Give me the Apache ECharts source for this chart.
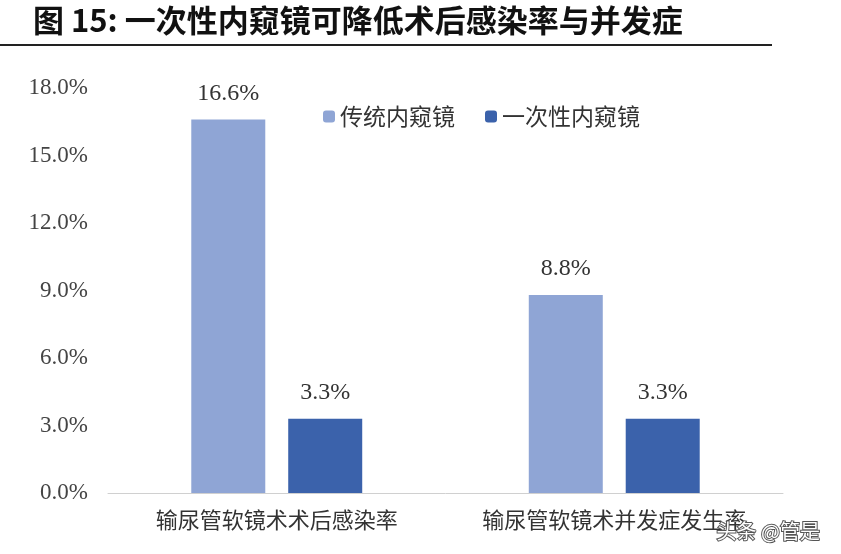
<html>
<head>
    <meta charset="utf-8">
    <title>chart</title>
    <script src="https://cdn.jsdelivr.net/npm/echarts@6/dist/echarts.min.js"></script>
</head>
<body style="margin:0">
    <div id="chart" style="width:841px;height:554px;"></div>
    <script>
        var categories = ['输尿管软镜术术后感染率', '输尿管软镜术并发症发生率'];
        var traditional = [16.6, 8.8];
        var disposable = [3.3, 3.3];
        var yTicks = [0, 3, 6, 9, 12, 15, 18];

        var cjk = '"Noto Sans CJK SC", sans-serif';
        var serif = '"Liberation Serif", "Times New Roman", serif';

        var chart = echarts.init(document.getElementById('chart'));
        var option = {
            animation: false,
            backgroundColor: '#fff',
            title: {
                text: '图 15: 一次性内窥镜可降低术后感染率与并发症',
                left: 28, top: 0,
                textStyle: { fontFamily: cjk, fontSize: 31, fontWeight: 'bold', color: '#111' }
            },
            graphic: [
                { type: 'line', shape: { x1: 0, y1: 45, x2: 772, y2: 45 }, style: { stroke: '#222', lineWidth: 2 } },
                { type: 'text', right: 20, bottom: 12, z: 100, style: { text: '头条 @管是', fill: '#fff', stroke: '#555', lineWidth: 2, font: '20px ' + cjk } }
            ],
            legend: {
                left: 318, top: 100, itemWidth: 12, itemHeight: 12, itemGap: 30,
                textStyle: { fontFamily: cjk, fontSize: 23, color: '#333' }
            },
            grid: { left: 108, right: 58, top: 88, bottom: 61 },
            xAxis: {
                type: 'category', data: categories,
                axisTick: { show: false },
                axisLine: { lineStyle: { color: '#d0d0d0' } },
                axisLabel: { interval: 0, hideOverlap: false, fontFamily: cjk, fontSize: 22, color: '#333', margin: 16 }
            },
            yAxis: {
                type: 'value', min: yTicks[0], max: yTicks[yTicks.length - 1], interval: 3,
                splitLine: { show: false },
                axisLabel: { fontFamily: serif, fontSize: 23, color: '#444', margin: 20,
                    formatter: function (v) { return v.toFixed(1) + '%'; } }
            },
            series: [
                { name: '传统内窥镜', type: 'bar', data: traditional, barWidth: 74, barGap: '31%',
                  itemStyle: { color: '#8FA5D5' },
                  label: { show: true, position: 'top', distance: 14, fontFamily: serif, fontSize: 24, color: '#333',
                           formatter: function (p) { return p.value.toFixed(1) + '%'; } } },
                { name: '一次性内窥镜', type: 'bar', data: disposable, barWidth: 74,
                  itemStyle: { color: '#3B62AB' },
                  label: { show: true, position: 'top', distance: 14, fontFamily: serif, fontSize: 24, color: '#333',
                           formatter: function (p) { return p.value.toFixed(1) + '%'; } } }
            ]
        };
        chart.setOption(option);
    </script>
</body>
</html>
